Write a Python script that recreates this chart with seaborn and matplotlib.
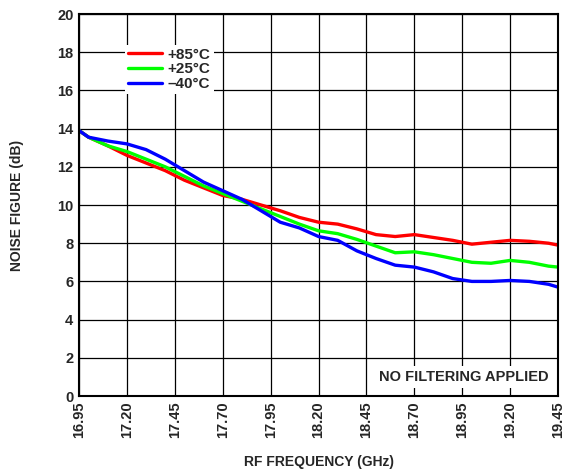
import numpy as np
import pandas as pd
import matplotlib
matplotlib.use("Agg")
import matplotlib.pyplot as plt
import seaborn as sns

# data
freq = [16.95, 17.0, 17.1, 17.2, 17.3, 17.4, 17.5, 17.6, 17.7, 17.8, 17.9,
        18.0, 18.1, 18.2, 18.3, 18.4, 18.5, 18.6, 18.7, 18.8, 18.9,
        19.0, 19.1, 19.2, 19.3, 19.4, 19.45]
nf_p85 = [13.9, 13.55, 13.1, 12.6, 12.2, 11.8, 11.3, 10.9, 10.5, 10.3, 10.0,
          9.7, 9.35, 9.1, 9.0, 8.75, 8.45, 8.35, 8.45, 8.3, 8.15,
          7.95, 8.05, 8.15, 8.1, 8.0, 7.9]
nf_p25 = [13.9, 13.55, 13.1, 12.8, 12.4, 12.0, 11.5, 11.0, 10.6, 10.2, 9.8,
          9.4, 9.0, 8.65, 8.5, 8.2, 7.85, 7.5, 7.55, 7.4, 7.2,
          7.0, 6.95, 7.1, 7.0, 6.8, 6.75]
nf_m40 = [13.9, 13.55, 13.35, 13.2, 12.9, 12.4, 11.8, 11.2, 10.75, 10.3, 9.7,
          9.1, 8.8, 8.35, 8.15, 7.6, 7.2, 6.85, 6.75, 6.5, 6.15,
          6.0, 6.0, 6.05, 6.0, 5.85, 5.7]
labels = ["+85°C", "+25°C", "\u201340°C"]
colors = ["#ff0000", "#00ff00", "#0000ff"]
xticks = [16.95, 17.20, 17.45, 17.70, 17.95, 18.20, 18.45, 18.70, 18.95, 19.20, 19.45]
yticks = list(range(0, 21, 2))

df = pd.concat([
    pd.DataFrame({"freq": freq, "nf": v, "temp": lab})
    for v, lab in zip([nf_p85, nf_p25, nf_m40], labels)
])

sns.set_style("white")
plt.rcParams["font.family"] = ["Liberation Sans", "DejaVu Sans"]
plt.rcParams["font.weight"] = "bold"

fig = plt.figure(figsize=(5.63, 4.70), dpi=100)
ax = fig.add_axes([0.1403, 0.1574, 0.851, 0.8128])

sns.lineplot(data=df, x="freq", y="nf", hue="temp", palette=dict(zip(labels, colors)),
             hue_order=labels, linewidth=2.4, ax=ax, legend=True)

ax.set_xlim(16.95, 19.45)
ax.set_ylim(0, 20)
ax.set_xticks(xticks)
ax.set_xticklabels([f"{t:.2f}" for t in xticks], rotation=90, fontsize=10.5, fontweight="bold")
ax.set_yticks(yticks)
ax.set_yticklabels([str(t) for t in yticks], fontsize=10.5, fontweight="bold")
ax.tick_params(length=0, pad=4)
ax.grid(True, color="black", linewidth=0.9)
ax.set_axisbelow(True)
for s in ax.spines.values():
    s.set_color("black")
    s.set_linewidth(1.5)

ax.set_xlabel("RF FREQUENCY (GHz)", fontsize=10, fontweight="bold", labelpad=12)
ax.set_ylabel("NOISE FIGURE (dB)", fontsize=10, fontweight="bold", labelpad=24)

leg = ax.legend(loc="upper left", bbox_to_anchor=(0.08, 0.94), frameon=True,
                fontsize=11, handlelength=2.2, handletextpad=0.4,
                labelspacing=0.05, borderpad=0.2, fancybox=False)
leg.get_frame().set_edgecolor("none")
leg.get_frame().set_facecolor("white")
leg.get_frame().set_alpha(1)
for t in leg.get_texts():
    t.set_fontweight("bold")

ax.text(0.98, 0.05, "NO FILTERING APPLIED", transform=ax.transAxes,
        ha="right", va="center", fontsize=10.5, fontweight="bold",
        bbox=dict(facecolor="white", edgecolor="none", pad=3))

fig.savefig("out.png", dpi=100)
